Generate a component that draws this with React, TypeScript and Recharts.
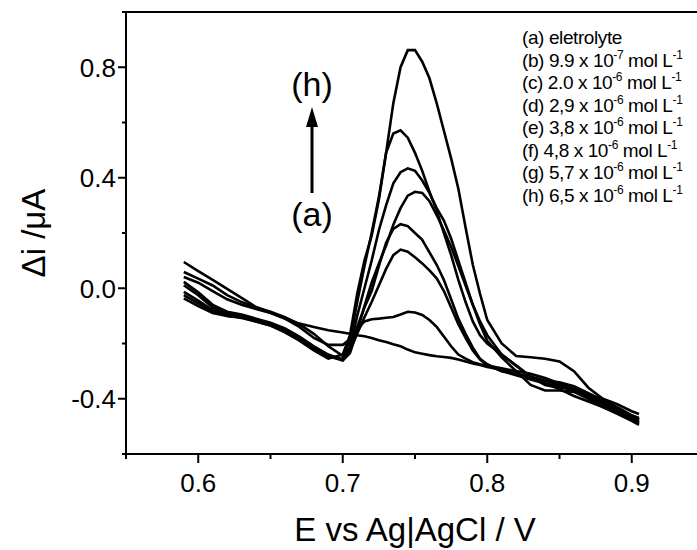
import React from 'react';
import { LineChart, Line, XAxis, YAxis, ReferenceLine } from 'recharts';

// potential (V) shared by all curves
const potential = [
  0.59, 0.6, 0.61, 0.62, 0.63, 0.64, 0.65, 0.66, 0.67, 0.68, 0.69, 0.7, 0.705, 0.71, 0.715,
  0.72, 0.725, 0.73, 0.735, 0.74, 0.745, 0.75, 0.755, 0.76, 0.765, 0.77, 0.775, 0.78, 0.785,
  0.79, 0.795, 0.8, 0.81, 0.82, 0.83, 0.84, 0.85, 0.86, 0.87, 0.88, 0.89, 0.9, 0.905,
];

// delta i (uA) for each curve
const curveA = [
  0.095, 0.062, 0.03, -0.002, -0.035, -0.068, -0.088, -0.11, -0.128, -0.14, -0.152, -0.16, -0.165,
  -0.17, -0.174, -0.18, -0.188, -0.195, -0.203, -0.21, -0.222, -0.232, -0.237, -0.242, -0.246,
  -0.249, -0.252, -0.258, -0.265, -0.272, -0.278, -0.285, -0.295, -0.31, -0.325, -0.345, -0.365,
  -0.39, -0.41, -0.43, -0.45, -0.475, -0.49,
];
const curveB = [
  0.041, 0.02, -0.01, -0.04, -0.06, -0.075, -0.09, -0.11, -0.14, -0.18, -0.205, -0.205, -0.185,
  -0.15, -0.12, -0.112, -0.11, -0.107, -0.104, -0.095, -0.085, -0.088, -0.097, -0.115, -0.14,
  -0.175, -0.21, -0.24, -0.255, -0.268, -0.275, -0.28, -0.29, -0.3, -0.31, -0.325, -0.345,
  -0.365, -0.385, -0.41, -0.435, -0.46, -0.475,
];
const curveC = [
  0.059, 0.035, 0.01, -0.025, -0.05, -0.07, -0.085, -0.105, -0.13, -0.165, -0.21, -0.245, -0.225,
  -0.165, -0.105, -0.05, 0.01, 0.07, 0.12, 0.14, 0.132, 0.112, 0.09, 0.065, 0.036, -0.01, -0.07,
  -0.13, -0.18, -0.225, -0.258, -0.278, -0.3, -0.31, -0.32, -0.335, -0.35, -0.37, -0.39, -0.415,
  -0.44, -0.465, -0.48,
];
const curveD = [
  0.023, -0.015, -0.06, -0.085, -0.095, -0.11, -0.125, -0.145, -0.175, -0.21, -0.24, -0.26,
  -0.225, -0.14, -0.07, -0.01, 0.08, 0.165, 0.215, 0.232, 0.225, 0.2, 0.175, 0.13, 0.085, 0.03,
  -0.04, -0.11, -0.165, -0.215, -0.255, -0.275, -0.3, -0.315, -0.33, -0.345, -0.355, -0.37,
  -0.395, -0.42, -0.445, -0.47, -0.485,
];
const curveE = [
  -0.013, -0.045, -0.08, -0.095, -0.1, -0.115, -0.13, -0.15, -0.18, -0.215, -0.245, -0.262,
  -0.235, -0.155, -0.065, 0.02, 0.09, 0.155, 0.23, 0.29, 0.335, 0.349, 0.345, 0.315, 0.265, 0.21,
  0.15, 0.08, 0.01, -0.06, -0.12, -0.17, -0.24, -0.28, -0.32, -0.35, -0.36, -0.365, -0.39,
  -0.415, -0.44, -0.465, -0.475,
];
const curveF = [
  0.011, -0.025, -0.07, -0.09, -0.098, -0.112, -0.128, -0.148, -0.178, -0.212, -0.243, -0.258,
  -0.215, -0.1, 0.0, 0.1, 0.21, 0.3, 0.38, 0.42, 0.434, 0.425, 0.39, 0.345, 0.29, 0.245, 0.18,
  0.1, 0.02, -0.06, -0.13, -0.19, -0.25, -0.3, -0.35, -0.37, -0.37, -0.375, -0.4, -0.43, -0.455,
  -0.48, -0.495,
];
const curveG = [
  -0.025, -0.055, -0.085, -0.1, -0.105, -0.12, -0.135, -0.155, -0.185, -0.22, -0.25, -0.255,
  -0.19, -0.05, 0.08, 0.2, 0.33, 0.49, 0.56, 0.572, 0.545, 0.49, 0.425, 0.35, 0.28, 0.2, 0.12,
  0.03, -0.05, -0.12, -0.17, -0.2, -0.24, -0.28, -0.32, -0.335, -0.34, -0.355, -0.38, -0.405,
  -0.43, -0.46, -0.47,
];
const curveH = [
  -0.037, -0.065, -0.09, -0.1, -0.108, -0.12, -0.135, -0.16, -0.19, -0.225, -0.255, -0.24, -0.17,
  -0.02, 0.1, 0.19, 0.32, 0.49, 0.67, 0.8, 0.862, 0.862, 0.82, 0.76, 0.67, 0.57, 0.47, 0.36, 0.22,
  0.085, -0.02, -0.115, -0.2, -0.245, -0.25, -0.255, -0.265, -0.3, -0.36, -0.4, -0.42, -0.445,
  -0.455,
];

const xTicks = [0.55, 0.6, 0.65, 0.7, 0.75, 0.8, 0.85, 0.9, 0.95];
const yTicks = [-0.6, -0.4, -0.2, 0, 0.2, 0.4, 0.6, 0.8, 1.0];

const legendRows = [
  { tag: '(a)', text: 'eletrolyte' },
  { tag: '(b)', text: '9.9 x 10', exp: '-7' },
  { tag: '(c)', text: '2.0 x 10', exp: '-6' },
  { tag: '(d)', text: '2,9 x 10', exp: '-6' },
  { tag: '(e)', text: '3,8 x 10', exp: '-6' },
  { tag: '(f)', text: '4,8 x 10', exp: '-6' },
  { tag: '(g)', text: '5,7 x 10', exp: '-6' },
  { tag: '(h)', text: '6,5 x 10', exp: '-6' },
];

const curves = [curveA, curveB, curveC, curveD, curveE, curveF, curveG, curveH];
const keys = ['a', 'b', 'c', 'd', 'e', 'f', 'g', 'h'];

const data = potential.map((x, i) => {
  const row: any = { x };
  keys.forEach((k, j) => {
    row[k] = curves[j][i];
  });
  return row;
});

const FONT = '"Liberation Sans", Arial, sans-serif';

const XTick = ({ x, y, payload }: any) => {
  const v = payload.value;
  const major = Math.round(v * 100) % 10 === 0;
  return (
    <g>
      <line x1={x} x2={x} y1={y} y2={y + (major ? 9 : 5)} stroke="#000" strokeWidth={2} />
      {major && (
        <text x={x} y={y + 38} textAnchor="middle" fontSize={26} fontFamily={FONT} fill="#000">
          {v.toFixed(1)}
        </text>
      )}
    </g>
  );
};

const YTick = ({ x, y, payload }: any) => {
  const v = payload.value;
  const major = Math.abs(Math.round(v * 10)) % 4 === 0;
  return (
    <g>
      <line x1={x} x2={x - (major ? 8 : 4)} y1={y} y2={y} stroke="#000" strokeWidth={2} />
      {major && (
        <text x={x - 10} y={y} dy="0.36em" textAnchor="end" fontSize={26} fontFamily={FONT} fill="#000">
          {v.toFixed(1)}
        </text>
      )}
    </g>
  );
};

export default function App() {
  return (
    <div
      style={{
        position: 'absolute',
        left: 0,
        top: 0,
        width: 697,
        height: 550,
        overflow: 'hidden',
        background: '#fff',
      }}
    >
      <LineChart width={720} height={550} data={data} margin={{ top: 12, right: 16, bottom: 36, left: 0 }}>
        <XAxis
          dataKey="x"
          type="number"
          domain={[0.55, 0.95]}
          ticks={xTicks}
          interval={0}
          height={60}
          tickSize={0}
          tickMargin={0}
          tickLine={false}
          axisLine={{ stroke: '#000', strokeWidth: 2 }}
          tick={<XTick />}
        />
        <YAxis
          type="number"
          domain={[-0.6, 1.0]}
          ticks={yTicks}
          interval={0}
          width={126}
          tickSize={0}
          tickMargin={0}
          tickLine={false}
          axisLine={{ stroke: '#000', strokeWidth: 2 }}
          tick={<YTick />}
        />
        <ReferenceLine y={1.0} stroke="#000" strokeWidth={2} />
        {keys.map((k) => (
          <Line
            key={k}
            dataKey={k}
            type="linear"
            stroke="#000"
            strokeWidth={2.6}
            dot={false}
            isAnimationActive={false}
          />
        ))}
      </LineChart>
      <svg
        width={697}
        height={550}
        style={{ position: 'absolute', left: 0, top: 0, pointerEvents: 'none' }}
        fontFamily={FONT}
      >
        <text
          x={33}
          y={233}
          transform="rotate(-90 33 233)"
          textAnchor="middle"
          dominantBaseline="central"
          fontSize={33}
        >
          Δi /μA
        </text>
        <text x={415} y={541} textAnchor="middle" fontSize={33}>
          E vs Ag|AgCl / V
        </text>
        {legendRows.map((r, i) => (
          <text key={r.tag} x={522} y={44 + i * 22.5} fontSize={19} letterSpacing={-0.4}>
            <tspan>{r.tag + ' ' + r.text}</tspan>
            {r.exp && (
              <>
                <tspan dy={-8} fontSize={12}>{r.exp}</tspan>
                <tspan dy={8}> mol L</tspan>
                <tspan dy={-8} fontSize={12}>-1</tspan>
              </>
            )}
          </text>
        ))}
        <text x={312} y={96} textAnchor="middle" fontSize={34}>
          (h)
        </text>
        <text x={312} y={226} textAnchor="middle" fontSize={34}>
          (a)
        </text>
        <line x1={312} x2={312} y1={193} y2={122} stroke="#000" strokeWidth={3} />
        <polygon points="312,107 306,127 318,127" fill="#000" />
      </svg>
    </div>
  );
}
